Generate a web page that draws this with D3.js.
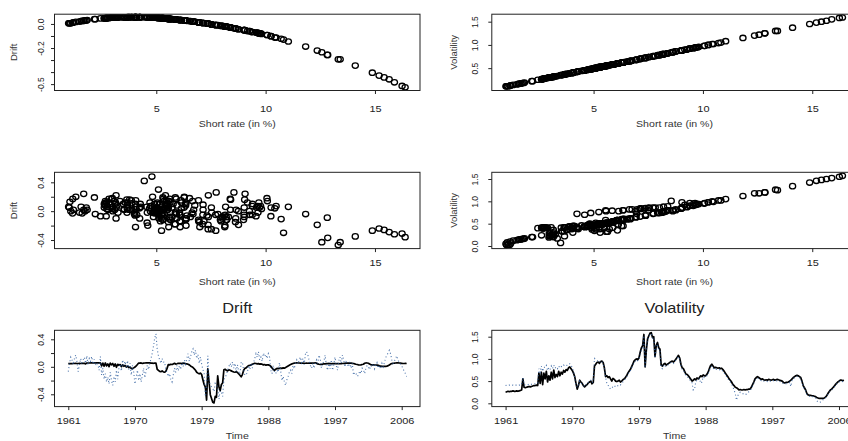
<!DOCTYPE html>
<html>
<head>
<meta charset="utf-8">
<script src="https://cdn.jsdelivr.net/npm/d3@7"></script>
<style>
  body { margin: 0; background: #fff; }
  svg { display: block; font-family: "Liberation Sans", Arial, Helvetica, sans-serif; }
</style>
</head>
<body>
<svg width="848" height="441"></svg>
<script>
// Short rate (in %), one value every two months, Jan 1961 .. Sep 2006
let rate = [
  2.45,2.62,2.67,2.64,2.74,2.70, 2.84,2.66,2.71,2.79,2.72,2.77, 2.89,3.06,5.55,3.65,3.52,3.67,
  3.69,3.86,3.71,3.88,3.89,4.05, 4.08,4.11,4.06,6.93,4.59,7.12, 4.24,6.99,5.55,7.37,4.87,6.36,
  5.24,7.18,5.57,7.71,5.85,6.64, 6.15,7.32,6.34,7.14,6.76,7.53, 7.14,7.82,7.52,8.20,8.39,8.01,
  7.52,6.97,6.09,4.61,3.16,4.05, 5.32,4.84,4.58,4.03,3.76,4.00, 4.24,4.71,4.83,5.10,4.45,4.80,
  8.55,9.04,9.40,9.58,9.17,9.64, 9.77,9.39,8.20,6.10,6.35,5.87, 6.09,5.64,5.04,5.72,5.49,5.12,
  4.93,5.11,5.26,4.92,5.03,5.40, 5.63,5.87,6.34,6.93,7.38,7.74, 8.38,9.06,9.69,10.06,10.25,10.08,
  10.42,11.83,12.82,13.41,15.89,8.40, 12.36,14.88,15.65,16.24,16.38,15.19, 15.42,10.82,13.32,14.10,12.84,12.57,
  8.76,8.62,8.99,9.27,8.75,9.02, 9.26,9.39,9.65,9.72,9.56,9.81, 10.24,10.71,11.04,10.48,9.01,8.22,
  7.93,7.38,6.71,6.68,6.27,5.91, 5.53,5.05,5.30,5.58,5.42,5.77, 5.57,5.95,6.28,6.13,6.52,6.36,
  6.28,6.66,7.13,8.02,8.65,9.02, 8.63,8.15,8.30,8.17,8.11,8.14, 7.96,8.13,7.72,7.37,6.94,6.56,
  6.07,5.62,5.26,4.92,4.30,4.05, 3.67,3.49,3.34,3.00,3.14,2.98, 2.99,3.16,2.96,3.12,3.10,3.25,
  3.17,3.66,4.23,4.92,5.54,5.91, 6.15,5.87,5.72,5.48,5.62,5.36, 5.27,5.44,5.24,5.51,5.39,5.32,
  5.35,5.52,5.25,5.45,5.46,5.40, 5.33,5.15,5.10,4.75,4.69,4.73, 4.74,4.91,5.04,5.29,5.60,5.94,
  6.07,6.35,6.40,6.37,6.06,5.92, 5.12,4.01,3.54,3.01,2.21,1.84, 1.74,1.80,1.61,1.68,1.56,1.49,
  1.21,1.17,1.02,1.09,0.99,1.05, 1.18,1.32,1.68,2.17,2.62,2.97, 3.20,3.57,3.78,4.27,4.56,4.91,
  5.04,5.31,5.26,5.23,5.19
];

// fitted (parametric) drift at each observation
let drift = [
  0.046,0.047,0.048,0.047,0.048,0.048, 0.050,0.048,0.048,0.050,0.048,0.050, 0.051,0.052,0.042,0.055,0.055,0.055,
  0.056,0.056,0.056,0.056,0.056,0.056, 0.056,0.056,0.056,0.013,0.055,0.008, 0.056,0.013,0.042,0.002,0.053,0.028,
  0.048,0.008,0.042,-0.007,0.037,0.021, 0.033,0.002,0.028,0.008,0.019,-0.004, 0.008,-0.010,-0.004,-0.023,-0.029,-0.016,
  -0.004,0.013,0.033,0.055,0.053,0.056, 0.048,0.053,0.055,0.056,0.056,0.056, 0.056,0.054,0.053,0.051,0.055,0.054,
  -0.036,-0.051,-0.067,-0.071,-0.059,-0.075, -0.079,-0.067,-0.023,0.033,0.028,0.037, 0.033,0.042,0.051,0.040,0.044,0.051,
  0.052,0.051,0.048,0.053,0.051,0.046, 0.042,0.037,0.028,0.013,0.002,-0.010, -0.029,-0.051,-0.079,-0.092,-0.102,-0.092,
  -0.113,-0.188,-0.257,-0.294,-0.485,-0.029, -0.221,-0.405,-0.460,-0.515,-0.526,-0.429, -0.444,-0.130,-0.294,-0.346,-0.257,-0.235,
  -0.044,-0.036,-0.051,-0.059,-0.044,-0.051, -0.059,-0.067,-0.075,-0.079,-0.071,-0.083, -0.102,-0.123,-0.146,-0.113,-0.051,-0.023,
  -0.016,0.002,0.019,0.021,0.028,0.037, 0.044,0.051,0.048,0.042,0.046,0.039, 0.042,0.037,0.028,0.033,0.024,0.028,
  0.028,0.021,0.008,-0.016,-0.040,-0.051, -0.036,-0.023,-0.026,-0.023,-0.020,-0.023, -0.016,-0.020,-0.010,0.002,0.013,0.024,
  0.033,0.042,0.048,0.053,0.055,0.056, 0.055,0.055,0.054,0.052,0.053,0.052, 0.052,0.053,0.052,0.053,0.053,0.053,
  0.053,0.055,0.056,0.053,0.042,0.037, 0.033,0.037,0.040,0.044,0.042,0.046, 0.048,0.046,0.048,0.044,0.046,0.048,
  0.046,0.044,0.048,0.046,0.044,0.046, 0.048,0.049,0.051,0.054,0.054,0.054, 0.054,0.053,0.051,0.048,0.042,0.037,
  0.033,0.028,0.026,0.028,0.033,0.037, 0.051,0.056,0.055,0.052,0.040,0.032, 0.029,0.029,0.026,0.026,0.024,0.020,
  0.014,0.010,0.006,0.006,0.006,0.006, 0.010,0.017,0.026,0.040,0.047,0.052, 0.053,0.055,0.056,0.056,0.055,0.053,
  0.051,0.048,0.048,0.049,0.048
];

// fitted (parametric) volatility at each observation
let vol = [
  0.25,0.26,0.27,0.26,0.27,0.27, 0.28,0.27,0.27,0.28,0.27,0.28, 0.29,0.30,0.55,0.36,0.35,0.36,
  0.37,0.38,0.37,0.38,0.39,0.40, 0.40,0.41,0.40,0.68,0.45,0.70, 0.42,0.68,0.55,0.72,0.48,0.62,
  0.52,0.70,0.55,0.75,0.58,0.65, 0.60,0.72,0.62,0.70,0.66,0.74, 0.70,0.76,0.74,0.80,0.82,0.78,
  0.74,0.68,0.60,0.45,0.32,0.40, 0.52,0.48,0.45,0.40,0.37,0.40, 0.42,0.46,0.48,0.50,0.44,0.47,
  0.84,0.88,0.92,0.93,0.90,0.94, 0.95,0.92,0.80,0.60,0.62,0.58, 0.60,0.55,0.50,0.56,0.54,0.50,
  0.49,0.50,0.52,0.48,0.50,0.53, 0.55,0.58,0.62,0.68,0.72,0.76, 0.82,0.88,0.95,0.98,1.00,0.98,
  1.02,1.15,1.25,1.30,1.55,0.82, 1.20,1.45,1.52,1.58,1.59,1.48, 1.50,1.05,1.30,1.37,1.25,1.22,
  0.86,0.84,0.88,0.90,0.86,0.88, 0.90,0.92,0.94,0.95,0.93,0.96, 1.00,1.04,1.08,1.02,0.88,0.80,
  0.78,0.72,0.66,0.65,0.62,0.58, 0.54,0.50,0.52,0.55,0.53,0.57, 0.55,0.58,0.62,0.60,0.64,0.62,
  0.62,0.65,0.70,0.78,0.85,0.88, 0.84,0.80,0.81,0.80,0.79,0.80, 0.78,0.79,0.76,0.72,0.68,0.64,
  0.60,0.55,0.52,0.48,0.43,0.40, 0.36,0.35,0.33,0.30,0.31,0.30, 0.30,0.31,0.30,0.31,0.31,0.32,
  0.32,0.36,0.42,0.48,0.55,0.58, 0.60,0.58,0.56,0.54,0.55,0.53, 0.52,0.53,0.52,0.54,0.53,0.52,
  0.53,0.54,0.52,0.53,0.54,0.53, 0.52,0.51,0.50,0.47,0.46,0.47, 0.47,0.48,0.50,0.52,0.55,0.58,
  0.60,0.62,0.63,0.62,0.60,0.58, 0.50,0.40,0.35,0.30,0.22,0.19, 0.18,0.18,0.17,0.17,0.16,0.15,
  0.13,0.12,0.11,0.11,0.11,0.11, 0.12,0.14,0.17,0.22,0.26,0.30, 0.32,0.35,0.38,0.42,0.45,0.48,
  0.50,0.52,0.52,0.51,0.52
];

// nonparametric drift estimates
let npDrift = [
  -0.07,0.05,0.14,0.10,0.03,0.12, 0.17,0.08,-0.07,0.02,0.12,0.06, 0.10,0.14,0.05,0.16,0.03,0.12,
  0.08,0.15,0.04,0.11,0.02,0.06, 0.03,-0.05,0.15,-0.12,-0.02,-0.18, -0.10,-0.22,-0.15,-0.25,-0.08,-0.20,
  -0.27,-0.14,-0.22,-0.05,-0.18,-0.02, 0.04,-0.06,0.10,0.02,0.08,-0.02, 0.09,-0.04,0.05,-0.12,0.02,-0.08,
  -0.25,-0.15,-0.05,-0.20,-0.10,-0.22, -0.12,-0.02,-0.16,-0.06,0.02,-0.04, 0.05,0.12,0.20,0.30,0.42,0.48,
  0.26,0.16,0.10,0.05,0.12,0.07, 0.07,-0.05,-0.08,-0.14,-0.10,-0.18, -0.22,-0.12,-0.02,-0.08,0.02,-0.06,
  0.02,-0.04,0.06,0.00,0.10,0.04, 0.12,0.19,0.08,0.15,0.22,0.26, 0.17,0.24,0.12,0.18,0.05,0.14,
  0.04,-0.04,-0.09,-0.43,-0.32,0.16, -0.19,-0.27,-0.29,-0.31,-0.36,-0.24, -0.26,-0.30,-0.47,-0.35,-0.37,-0.43,
  -0.19,-0.15,-0.12,-0.05,0.00,0.05, 0.00,0.07,-0.02,0.05,-0.07,0.03, -0.07,-0.11,0.06,0.07,-0.05,-0.12,
  -0.12,-0.08,0.02,-0.04,0.05,-0.02, 0.05,0.12,0.19,0.14,0.22,0.10, 0.14,0.08,0.20,0.15,0.18,0.12,
  0.19,0.14,-0.05,-0.10,0.02,-0.08, -0.10,-0.05,-0.08,0.06,-0.06,-0.20, -0.14,-0.22,-0.27,-0.19,-0.14,-0.08,
  -0.05,-0.10,0.02,-0.03,0.06,0.10, 0.04,0.10,0.14,0.06,0.12,0.03, 0.18,0.22,0.17,0.10,0.02,-0.02,
  0.05,-0.02,0.04,0.10,0.05,0.17, 0.12,-0.02,0.05,0.08,0.17,0.02, -0.05,0.07,-0.03,0.10,-0.05,0.03,
  0.14,0.02,-0.05,0.08,0.14,0.05, 0.17,0.10,0.00,0.07,0.04,0.00, 0.07,-0.02,0.05,-0.12,-0.08,-0.10,
  -0.14,-0.12,-0.06,-0.10,-0.02,-0.04, -0.10,-0.02,0.02,0.00,-0.04,0.02, 0.00,0.05,-0.03,0.02,0.06,-0.02,
  0.02,-0.03,0.05,0.00,0.06,0.13, 0.17,0.20,0.24,0.19,0.10,0.05, 0.08,0.12,0.16,0.10,0.06,0.04,
  0.02,-0.03,-0.06,-0.10,-0.14
];

// nonparametric volatility estimates
let npVol = [
  0.40,0.41,0.40,0.41,0.41,0.40, 0.41,0.40,0.41,0.41,0.40,0.41, 0.41,0.42,0.58,0.42,0.41,0.42,
  0.42,0.43,0.42,0.43,0.44,0.44, 0.44,0.45,0.45,0.78,0.70,0.84, 0.72,0.82,0.80,0.85,0.74,0.80,
  0.76,0.84,0.78,0.86,0.79,0.82, 0.78,0.84,0.80,0.83,0.82,0.86, 0.84,0.86,0.85,0.88,0.89,0.86,
  0.80,0.72,0.58,0.42,0.36,0.40, 0.50,0.46,0.44,0.40,0.37,0.41, 0.43,0.47,0.50,0.52,0.46,0.49,
  1.01,0.98,0.96,0.95,0.92,0.96, 0.94,0.90,0.78,0.58,0.45,0.41, 0.35,0.32,0.34,0.38,0.40,0.37,
  0.37,0.40,0.42,0.41,0.45,0.48, 0.52,0.55,0.60,0.65,0.70,0.73, 0.80,0.86,0.93,0.95,0.98,0.96,
  1.00,1.12,1.20,1.25,1.52,0.80, 1.18,1.42,1.50,1.55,1.57,1.46, 1.48,1.02,1.26,1.34,1.20,1.18,
  0.80,0.78,0.84,0.87,0.82,0.85, 0.88,0.90,0.92,0.93,0.90,0.94, 0.98,1.02,1.05,0.99,0.84,0.76,
  0.74,0.68,0.62,0.60,0.58,0.54, 0.50,0.46,0.30,0.32,0.48,0.52, 0.52,0.56,0.45,0.48,0.60,0.58,
  0.60,0.62,0.66,0.74,0.80,0.84, 0.80,0.76,0.77,0.76,0.75,0.76, 0.74,0.75,0.72,0.68,0.64,0.60,
  0.56,0.50,0.48,0.44,0.38,0.30, 0.22,0.07,0.17,0.22,0.25,0.24, 0.22,0.20,0.19,0.21,0.24,0.26,
  0.28,0.33,0.39,0.45,0.52,0.55, 0.57,0.55,0.53,0.51,0.52,0.50, 0.49,0.50,0.49,0.51,0.50,0.49,
  0.50,0.51,0.49,0.50,0.51,0.50, 0.49,0.48,0.47,0.44,0.43,0.44, 0.44,0.45,0.47,0.38,0.52,0.55,
  0.58,0.60,0.61,0.60,0.58,0.55, 0.48,0.38,0.33,0.28,0.20,0.17, 0.16,0.16,0.15,0.15,0.14,0.13,
  0.06,0.03,0.02,0.03,0.05,0.08, 0.10,0.12,0.15,0.20,0.24,0.28, 0.30,0.33,0.36,0.40,0.43,0.46,
  0.48,0.50,0.50,0.49,0.50
];

let startYear = 1961, perYear = 6;
let time = rate.map((d, i) => startYear + i / perYear);

// ticks and labels
let rateTicks = [5, 10, 15];
let yearTicks = [1961, 1970, 1979, 1988, 1997, 2006];
let driftTicksTop = [-0.5, -0.4, -0.3, -0.2, -0.1, 0];
let driftLabelsTop = [-0.5, -0.2, 0];
let driftTicks = [-0.4, -0.2, 0, 0.2, 0.4];
let driftLabels = [-0.4, 0, 0.4];
let volTicksTop = [0.5, 1, 1.5];
let volTicks = [0, 0.5, 1, 1.5];

// layout (px)
let colX = [54.5, 491.8], boxW = 365.5;
let rowY = [14.2, 172.3, 330.3], boxH = 76.3;
let tickLabY = [108.3, 263, 421];
let xTitleY = [123.8, 281.7, 435.8];
let yTickLabX = [41.5, 474.8];
let yTitleX = [13.8, 453.7];
let stretch = 'scale(1.15,1)';

let svg = d3.select('svg');

let panels = [
  {col: 0, row: 0, xs: rate, ys: drift, xDomain: [0.345, 17.06], yDomain: [-0.553, 0.081],
   xTicks: rateTicks, yTicks: driftTicksTop, yLabels: driftLabelsTop, xTitle: 'Short rate (in %)', yTitle: 'Drift'},
  {col: 1, row: 0, xs: rate, ys: vol, xDomain: [0.345, 17.06], yDomain: [0.019, 1.661],
   xTicks: rateTicks, yTicks: volTicksTop, yLabels: volTicksTop, xTitle: 'Short rate (in %)', yTitle: 'Volatility'},
  {col: 0, row: 1, xs: rate, ys: npDrift, xDomain: [0.345, 17.06], yDomain: [-0.519, 0.539],
   xTicks: rateTicks, yTicks: driftTicks, yLabels: driftLabels, xTitle: 'Short rate (in %)', yTitle: 'Drift'},
  {col: 1, row: 1, xs: rate, ys: npVol, xDomain: [0.345, 17.06], yDomain: [-0.058, 1.65],
   xTicks: rateTicks, yTicks: volTicks, yLabels: volTicks, xTitle: 'Short rate (in %)', yTitle: 'Volatility'},
  {col: 0, row: 2, xs: time, ys: drift, ys2: npDrift, xDomain: [1959.14, 2008.47], yDomain: [-0.579, 0.531],
   xTicks: yearTicks, yTicks: driftTicks, yLabels: driftLabels, xTitle: 'Time', title: 'Drift'},
  {col: 1, row: 2, xs: time, ys: vol, ys2: npVol, xDomain: [1959.14, 2008.47], yDomain: [-0.074, 1.644],
   xTicks: yearTicks, yTicks: volTicks, yLabels: volTicks, xTitle: 'Time', title: 'Volatility'}
];

let fmt = d => d3.format('.1f')(d).replace('\u2212', '-');

panels.forEach(p => {
  let x0 = colX[p.col], y0 = rowY[p.row];
  let x = d3.scaleLinear().domain(p.xDomain).range([x0, x0 + boxW]);
  let y = d3.scaleLinear().domain(p.yDomain).range([y0 + boxH, y0]);
  let g = svg.append('g');

  if (!p.ys2) {
    // open circles
    g.append('g').selectAll('ellipse')
      .data(p.xs)
      .enter()
      .append('ellipse')
        .attr('cx', d => x(d))
        .attr('cy', (d, i) => y(p.ys[i]))
        .attr('rx', 3.1)
        .attr('ry', 2.7)
        .attr('fill', 'none')
        .attr('stroke', '#000')
        .attr('stroke-width', 1.3);
  } else {
    let line = d3.line().x(d => x(d[0])).y(d => y(d[1]));
    g.append('path')
      .datum(d3.zip(p.xs, p.ys))
      .attr('d', line)
      .attr('fill', 'none')
      .attr('stroke', '#000')
      .attr('stroke-width', 1.7)
      .attr('stroke-linejoin', 'round');
    g.append('path')
      .datum(d3.zip(p.xs, p.ys2))
      .attr('d', line)
      .attr('fill', 'none')
      .attr('stroke', '#2a5a9c')
      .attr('stroke-opacity', 0.85)
      .attr('stroke-width', 1.1)
      .attr('stroke-dasharray', '1 2.5');
  }

  // box
  g.append('rect')
    .attr('x', x0).attr('y', y0)
    .attr('width', boxW).attr('height', boxH)
    .attr('fill', 'none')
    .attr('stroke', '#222')
    .attr('stroke-width', 1);

  // x axis
  let xa = g.append('g')
    .attr('transform', 'translate(0,' + (y0 + boxH) + ')')
    .call(d3.axisBottom(x).tickValues(p.xTicks).tickSize(3.5).tickFormat(d3.format('d')));
  xa.select('.domain').remove();
  xa.selectAll('line').attr('stroke', '#222');
  xa.selectAll('text')
    .attr('y', tickLabY[p.row] - (y0 + boxH))
    .attr('dy', '0.35em')
    .attr('transform', stretch)
    .style('font-size', '9.5px')
    .style('font-family', 'Liberation Sans, Arial, sans-serif')
    .attr('fill', '#222');

  // y axis
  let ya = g.append('g')
    .attr('transform', 'translate(' + x0 + ',0)')
    .call(d3.axisLeft(y).tickValues(p.yTicks).tickSize(3.5)
      .tickFormat(d => p.yLabels.includes(d) ? fmt(d) : ''));
  ya.select('.domain').remove();
  ya.selectAll('line').attr('stroke', '#222');
  ya.selectAll('text')
    .attr('x', 0).attr('y', 0)
    .attr('dy', '0.35em')
    .attr('text-anchor', 'middle')
    .attr('transform', 'translate(' + (yTickLabX[p.col] - x0) + ',0) rotate(-90)')
    .style('font-size', '8.5px')
    .style('font-family', 'Liberation Sans, Arial, sans-serif')
    .attr('fill', '#222');

  // axis titles
  g.append('text')
    .attr('transform', 'translate(' + (x0 + boxW / 2) + ',' + xTitleY[p.row] + ') ' + stretch)
    .attr('dy', '0.35em')
    .attr('text-anchor', 'middle')
    .style('font-size', '9.2px')
    .attr('fill', '#333')
    .text(p.xTitle);

  if (p.yTitle) {
    g.append('text')
      .attr('transform', 'translate(' + yTitleX[p.col] + ',' + (y0 + boxH / 2) + ') rotate(-90)')
      .attr('dy', '0.35em')
      .attr('text-anchor', 'middle')
      .style('font-size', '9.5px')
      .attr('fill', '#333')
      .text(p.yTitle);
  }

  if (p.title) {
    g.append('text')
      .attr('transform', 'translate(' + (x0 + boxW / 2) + ',307.7) ' + stretch)
      .attr('dy', '0.35em')
      .attr('text-anchor', 'middle')
      .style('font-size', '14.2px')
      .attr('fill', '#222')
      .text(p.title);
  }
});
</script>
</body>
</html>
